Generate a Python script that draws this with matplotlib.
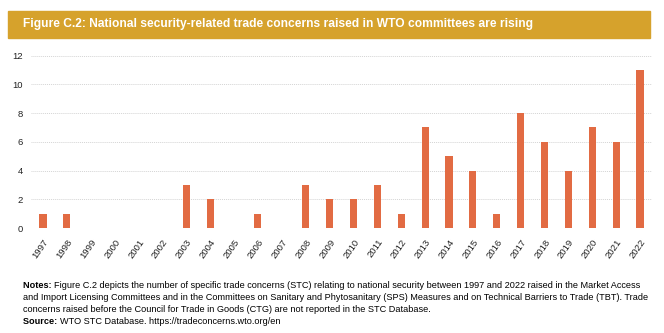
import matplotlib.pyplot as plt
from matplotlib.patches import Rectangle

years = [str(y) for y in range(1997, 2023)]
concerns = [1, 1, 0, 0, 0, 0, 3, 2, 0, 1, 0, 3, 2, 2, 3, 1, 7, 5, 4, 1, 8, 6, 4, 7, 6, 11]
yticks = [0, 2, 4, 6, 8, 10, 12]

title = "Figure C.2: National security-related trade concerns raised in WTO committees are rising"
notes = ["Figure C.2 depicts the number of specific trade concerns (STC) relating to national security between 1997 and 2022 raised in the Market Access",
         "and Import Licensing Committees and in the Committees on Sanitary and Phytosanitary (SPS) Measures and on Technical Barriers to Trade (TBT). Trade",
         "concerns raised before the Council for Trade in Goods (CTG) are not reported in the STC Database."]
source = "WTO STC Database. https://tradeconcerns.wto.org/en"

plt.rcParams["font.family"] = ["Liberation Sans", "DejaVu Sans"]

fig = plt.figure(figsize=(6.64, 3.33), dpi=100)
renderer = fig.canvas.get_renderer()

def px(x, y):
    return x / 664, 1 - y / 333

def width_px(t):
    return t.get_window_extent(renderer).width

# bandeau du titre
fig.patches.append(Rectangle(px(8, 38), 642 / 664, 27 / 333,
                             transform=fig.transFigure, color="#D6A22C", zorder=0))
t = fig.text(*px(23, 24.5), title, color="white", fontsize=9, fontweight="bold",
             va="center", ha="left")
t.set_fontsize(9 * 507 / width_px(t))

ax = fig.add_axes([31 / 664, 1 - 228 / 333, 621 / 664, 172.3 / 333])
x = range(len(years))
ax.bar(x, concerns, width=0.3, color="#E26B43", zorder=3)
ax.set_xlim(-0.5, len(years) - 0.5)
ax.set_ylim(0, 12)
ax.set_yticks(yticks)
ax.set_xticks(list(x))
ax.set_xticklabels(years, rotation=55, ha="right", rotation_mode="anchor", fontsize=6.8,
                   color="#222222")
ax.tick_params(axis="y", labelsize=6.8, length=0, pad=6, labelcolor="#222222")
ax.tick_params(axis="x", length=0, pad=7)
for s in ax.spines.values():
    s.set_visible(False)
ax.yaxis.grid(True, linestyle=(0, (1, 1)), color="#d4d4d4", linewidth=0.7, zorder=0)
ax.set_axisbelow(True)

# notes: taille ajustee sur la largeur de la premiere ligne
fs = 6.5
lab = fig.text(*px(23, 285), "Notes: ", fontsize=fs, fontweight="bold", va="center")
first = fig.text(0, 0, notes[0], fontsize=fs, va="center")
total = width_px(lab) + width_px(first)
fs = fs * 612 / total
lab.set_fontsize(fs)
first.set_fontsize(fs)
first.set_position(px(23 + width_px(lab), 285))
fig.text(*px(23, 297), notes[1], fontsize=fs, va="center")
fig.text(*px(23, 309), notes[2], fontsize=fs, va="center")
src = fig.text(*px(23, 321), "Source: ", fontsize=fs, fontweight="bold", va="center")
fig.text(*px(23 + width_px(src), 321), source, fontsize=fs, va="center")

fig.savefig("out.png", dpi=100)
